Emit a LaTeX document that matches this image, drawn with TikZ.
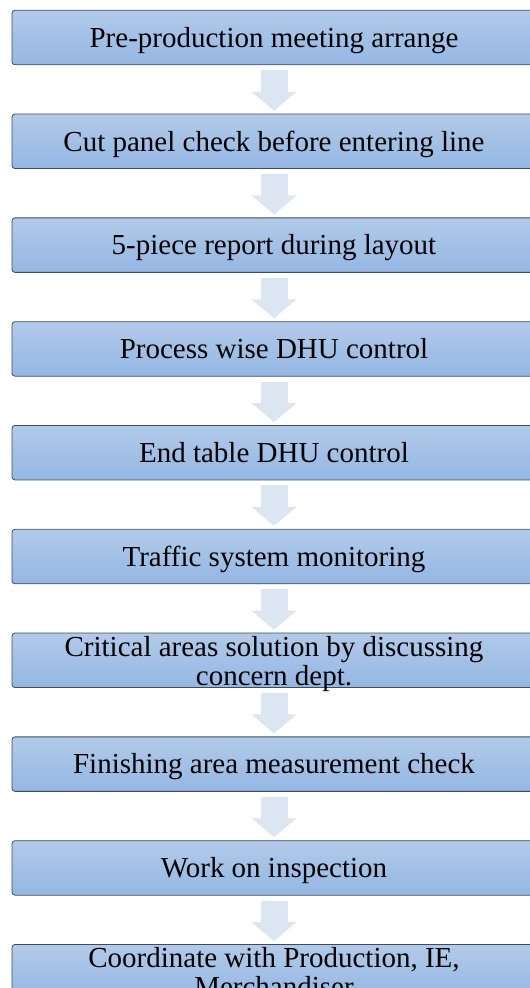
\documentclass[tikz,border=0pt]{standalone}
\usepackage{fontspec}
\setmainfont{Liberation Serif}
\usepackage{tikz}
\usetikzlibrary{arrows.meta,positioning}
\definecolor{boxtop}{RGB}{178,202,233}
\definecolor{boxbot}{RGB}{148,183,227}
\definecolor{boxedge}{RGB}{62,76,96}
\definecolor{arrfill}{RGB}{220,230,243}

\begin{document}
\begin{tikzpicture}[
  node distance=48.5pt,
  box/.style={rectangle, rounded corners=3pt, draw=boxedge, line width=0.8pt,
    top color=boxtop, bottom color=boxbot, minimum width=524pt, minimum height=54.5pt,
    text width=520pt, align=flush center, inner sep=0pt, text height=25pt, text depth=5.4pt,
    font=\fontsize{29}{29}\selectfont},
  boxtwo/.style={box, text height=22pt, text depth=30.6pt},
  flow/.style={arrfill, line width=27pt, shorten <=5pt, shorten >=3pt,
    -{Triangle[width=44pt, length=19pt]}}]

\useasboundingbox (0,0) rectangle (530pt,-988pt);

\node[box] (s1) at (274pt,-37.5pt) {Pre-production meeting arrange};
\node[box, below=of s1] (s2) {Cut panel check before entering line};
\node[box, below=of s2] (s3) {5-piece report during layout};
\node[box, below=of s3] (s4) {Process wise DHU control};
\node[box, below=of s4] (s5) {End table DHU control};
\node[box, below=of s5] (s6) {Traffic system monitoring};
\node[boxtwo, below=of s6] (s7) {Critical areas solution by discussing\\ concern dept.};
\node[box, below=of s7] (s8) {Finishing area measurement check};
\node[box, below=of s8] (s9) {Work on inspection};
\node[boxtwo, below=of s9] (s10) {Coordinate with Production, IE,\\ Merchandiser};

\foreach \a/\b in {s1/s2, s2/s3, s3/s4, s4/s5, s5/s6, s6/s7, s7/s8, s8/s9, s9/s10}
  \draw[flow] (\a) -- (\b);
\end{tikzpicture}
\end{document}
